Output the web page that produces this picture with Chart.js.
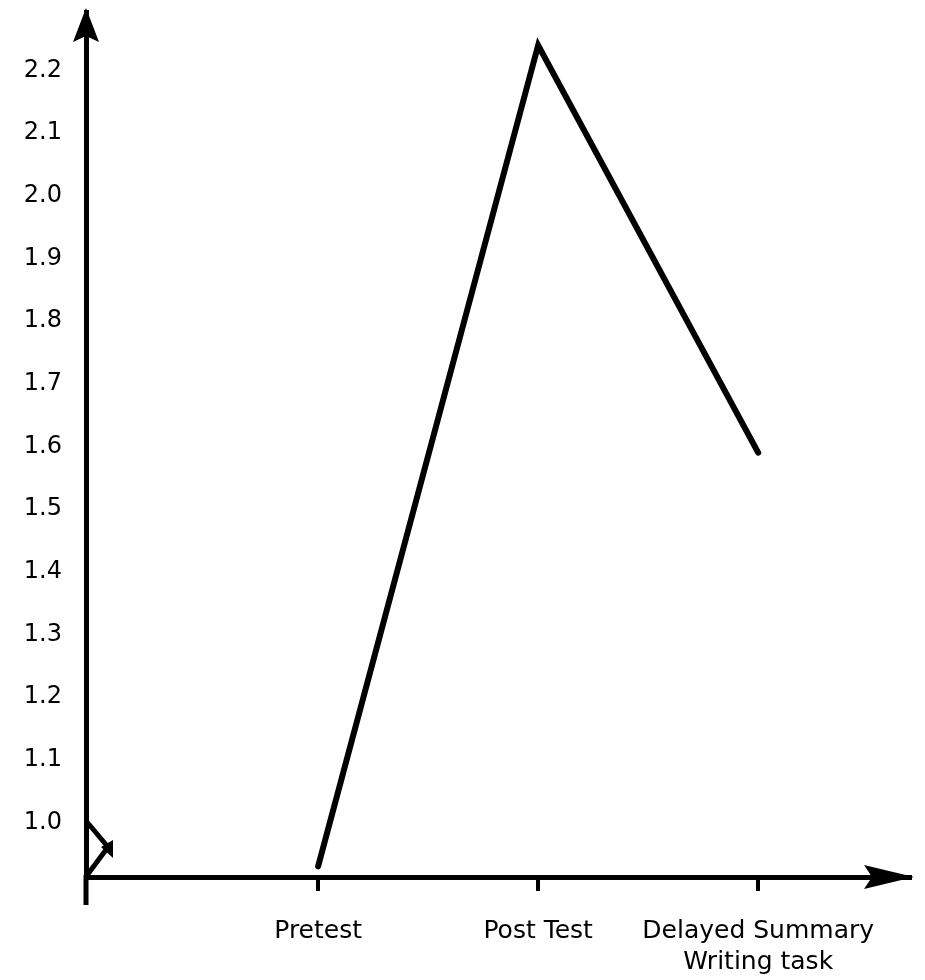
<!DOCTYPE html>
<html><head><meta charset="utf-8">
<script src="https://cdn.jsdelivr.net/npm/chart.js@4.4.1/dist/chart.umd.min.js"></script>
<style>html,body{margin:0;padding:0;background:#fff}#wrap{width:925px;height:980px}</style>
</head><body><div id="wrap"><canvas id="c" width="925" height="980"></canvas></div>
<script>
// ---- data ----
const categories = ["Pretest", "Post Test", ["Delayed Summary", "Writing task"]];
const categoryPositions = [1, 2, 3];
const scores = [0.93, 2.24, 1.59];
const yTickValues = [1.0, 1.1, 1.2, 1.3, 1.4, 1.5, 1.6, 1.7, 1.8, 1.9, 2.0, 2.1, 2.2];
const yTickLabels = ["1.0", "1.1", "1.2", "1.3", "1.4", "1.5", "1.6", "1.7", "1.8", "1.9", "2.0", "2.1", "2.2"];

const points = scores.map((v, i) => ({ x: categoryPositions[i], y: v }));

function zeroPadding(s) { s.paddingTop = 0; s.paddingBottom = 0; s.paddingLeft = 0; s.paddingRight = 0; }

const axisDecor = {
  id: 'axisDecor',
  afterDraw(chart) {
    const { ctx, chartArea: a } = chart;
    ctx.save();
    ctx.fillStyle = '#000';
    ctx.strokeStyle = '#000';
    // y-axis extension below origin
    ctx.lineWidth = 5;
    ctx.beginPath();
    ctx.moveTo(a.left, a.bottom - 2);
    ctx.lineTo(a.left, a.bottom + 28);
    ctx.stroke();
    // y arrowhead (notched)
    ctx.beginPath();
    ctx.moveTo(a.left, a.top - 4);
    ctx.lineTo(a.left + 13, a.top + 30);
    ctx.lineTo(a.left, a.top + 24);
    ctx.lineTo(a.left - 13, a.top + 30);
    ctx.closePath();
    ctx.fill();
    // x arrowhead (notched)
    ctx.beginPath();
    ctx.moveTo(a.right + 4, a.bottom);
    ctx.lineTo(a.right - 46, a.bottom - 12);
    ctx.lineTo(a.right - 38, a.bottom);
    ctx.lineTo(a.right - 46, a.bottom + 12);
    ctx.closePath();
    ctx.fill();
    // small corner mark near origin
    ctx.lineWidth = 5;
    ctx.lineCap = 'round';
    ctx.beginPath();
    ctx.moveTo(a.left + 1, a.bottom - 55);
    ctx.lineTo(a.left + 22, a.bottom - 30);
    ctx.moveTo(a.left + 2, a.bottom - 3);
    ctx.lineTo(a.left + 22, a.bottom - 30);
    ctx.stroke();
    ctx.beginPath();
    ctx.moveTo(a.left + 27, a.bottom - 37);
    ctx.lineTo(a.left + 15, a.bottom - 30);
    ctx.lineTo(a.left + 27, a.bottom - 19);
    ctx.closePath();
    ctx.fill();
    ctx.restore();
  }
};

new Chart(document.getElementById('c'), {
  type: 'line',
  data: {
    datasets: [{
      data: points,
      borderColor: '#000',
      borderWidth: 6,
      borderCapStyle: 'round',
      borderJoinStyle: 'miter',
      pointRadius: 0,
      tension: 0,
      fill: false
    }]
  },
  options: {
    responsive: false,
    animation: false,
    events: [],
    layout: { padding: { top: 12, right: 15, bottom: 0, left: 0 } },
    plugins: { legend: { display: false }, tooltip: { enabled: false } },
    scales: {
      x: {
        type: 'linear',
        min: -0.055,
        max: 3.69,
        afterBuildTicks: (s) => { s.ticks = categoryPositions.map(v => ({ value: v })); },
        afterFit: (s) => { s.height = 103; zeroPadding(s); },
        grid: { display: true, drawOnChartArea: false, drawTicks: true, tickLength: 14, tickWidth: 4, tickColor: '#000', lineWidth: 4, color: '#000' },
        border: { display: true, color: '#000', width: 5 },
        ticks: {
          autoSkip: false,
          maxRotation: 0,
          padding: 25,
          color: '#000',
          font: { family: 'DejaVu Sans', size: 25, lineHeight: 1.25 },
          callback: (v) => { const i = categoryPositions.indexOf(v); return i >= 0 ? categories[i] : ''; }
        }
      },
      y: {
        type: 'linear',
        min: 0.913,
        max: 2.293,
        afterBuildTicks: (s) => { s.ticks = yTickValues.map(v => ({ value: v })); },
        afterFit: (s) => { s.width = 86; zeroPadding(s); },
        grid: { display: true, drawOnChartArea: false, drawTicks: false, color: '#000', lineWidth: 5 },
        border: { display: true, color: '#000', width: 5 },
        ticks: {
          autoSkip: false,
          padding: 24,
          color: '#000',
          font: { family: 'DejaVu Sans', size: 24 },
          callback: (v) => { const i = yTickValues.findIndex(t => Math.abs(t - v) < 1e-9); return i >= 0 ? yTickLabels[i] : ''; }
        }
      }
    }
  },
  plugins: [axisDecor]
});
</script>
</body></html>
